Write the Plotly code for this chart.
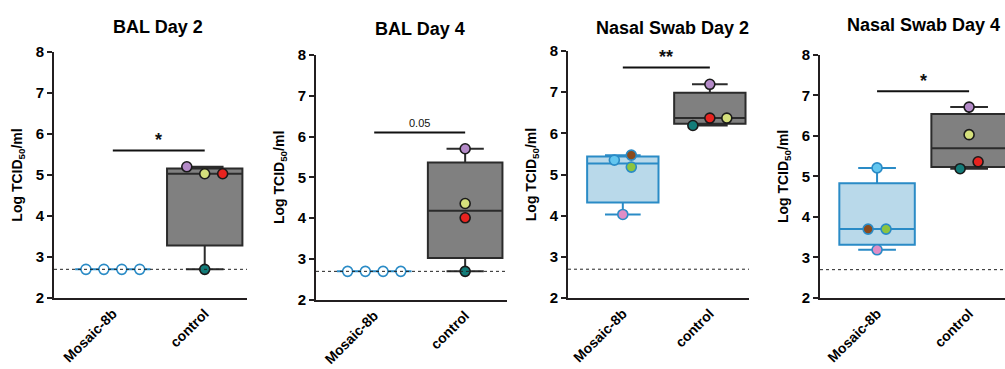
import numpy as np
import plotly.graph_objects as go

# ---------------- data ----------------
categories = ["Mosaic-8b", "control"]
panel_titles = ["BAL Day 2", "BAL Day 4", "Nasal Swab Day 2", "Nasal Swab Day 4"]
y_ticks = [2, 3, 4, 5, 6, 7, 8]
detection_limit = 2.7

bal_d2_mosaic = [2.7, 2.7, 2.7, 2.7]
bal_d2_control = [5.2, 5.03, 5.03, 2.7]
bal_d4_mosaic = [2.7, 2.7, 2.7, 2.7]
bal_d4_control = [5.7, 4.36, 4.01, 2.7]
nasal_d2_mosaic = [5.35, 5.18, 5.47, 4.03]
nasal_d2_control = [7.19, 6.19, 6.37, 6.37]
nasal_d4_mosaic = [5.21, 3.7, 3.7, 3.19]
nasal_d4_control = [6.71, 6.03, 5.19, 5.36]

sig_labels = ["*", "0.05", "**", "*"]
sig_heights = [5.6, 6.1, 7.6, 7.1]

# ---------------- styles ----------------
PURPLE, YELLOW, RED, TEAL = "#b48ac8", "#d5e07c", "#e8231f", "#137c79"
LBLUE, BROWN, GREEN, PINK = "#63c6ef", "#8a4a1c", "#8cc43f", "#df8ec6"
OPEN = "#ffffff"
point_colors = [
    ([OPEN] * 4, [PURPLE, YELLOW, RED, TEAL]),
    ([OPEN] * 4, [PURPLE, YELLOW, RED, TEAL]),
    ([LBLUE, GREEN, BROWN, PINK], [PURPLE, TEAL, RED, YELLOW]),
    ([LBLUE, BROWN, GREEN, PINK], [PURPLE, YELLOW, TEAL, RED]),
]
panel_values = [
    (bal_d2_mosaic, bal_d2_control),
    (bal_d4_mosaic, bal_d4_control),
    (nasal_d2_mosaic, nasal_d2_control),
    (nasal_d4_mosaic, nasal_d4_control),
]

MOS_FILL, MOS_LINE = "#b9d9ea", "#2a8bc6"
CTL_FILL, CTL_LINE = "#808080", "#2b2b2b"
AX = "#231f20"
FONT = "Liberation Sans"

W, H = 1005, 369
# pixel geometry of each panel: (x_left, x_right, y_top(8), y_bottom(2)), x range
px_geom = [(54, 247, 45, 303), (316, 507, 48, 305), (568, 749, 44, 303), (820, 1005, 48, 303)]
x_ranges = [(-0.64, 1.46), (-0.64, 1.46), (-0.63, 1.45), (-0.62, 1.39)]
title_px = [(158, 19), (420, 21), (672, 20), (923, 17)]

SPACING = 0.195   # horizontal spacing of swarm columns (data units)
OVERLAP = 0.23    # vertical distance below which markers collide


def swarm_offsets(vals):
    """Spread colliding points into centred columns (Prism-like scatter)."""
    n = len(vals)
    parent = list(range(n))

    def find(i):
        while parent[i] != i:
            i = parent[i]
        return i

    for i in range(n):
        for j in range(i + 1, n):
            if abs(vals[i] - vals[j]) < OVERLAP:
                parent[find(j)] = find(i)
    groups = {}
    for i in range(n):
        groups.setdefault(find(i), []).append(i)
    offs = [0.0] * n
    for members in groups.values():
        cols = []
        assign = {}
        for i in members:
            for ci, col in enumerate(cols):
                if all(abs(vals[i] - vals[k]) >= OVERLAP for k in col):
                    col.append(i)
                    assign[i] = ci
                    break
            else:
                cols.append([i])
                assign[i] = len(cols) - 1
        nc = len(cols)
        for i in members:
            offs[i] = (assign[i] - (nc - 1) / 2) * SPACING
    return offs


fig = go.Figure()
layout = dict(
    width=W, height=H, margin=dict(l=0, r=0, t=0, b=0),
    paper_bgcolor="white", plot_bgcolor="white", showlegend=False,
    font=dict(family=FONT, color="#000000"),
)
shapes, annotations = [], []

for p in range(4):
    xl, xr, yt, yb = px_geom[p]
    sfx = "" if p == 0 else str(p + 1)
    xa, ya = "x" + sfx, "y" + sfx
    layout["xaxis" + sfx] = dict(
        domain=[xl / W, xr / W], range=list(x_ranges[p]), anchor=ya,
        tickmode="array", tickvals=[0, 1], ticktext=categories, tickangle=-45,
        tickfont=dict(family=FONT, size=14, weight="bold", color="#000"),
        showline=True, linecolor=AX, linewidth=2, ticks="", showgrid=False,
        zeroline=False, fixedrange=True,
    )
    layout["yaxis" + sfx] = dict(
        domain=[(H - yb) / H, (H - yt) / H], range=[2, 8], anchor=xa,
        tickvals=y_ticks, ticks="outside", ticklen=5, tickwidth=2, tickcolor=AX,
        tickfont=dict(family=FONT, size=15, weight="bold", color="#000"),
        showline=True, linecolor=AX, linewidth=2, showgrid=False, zeroline=False,
        title=dict(text="Log TCID<sub>50</sub>/ml", standoff=10,
                   font=dict(family=FONT, size=14, weight="bold", color="#000")),
        fixedrange=True,
    )

    for ci, vals in enumerate(panel_values[p]):
        q1, med, q3 = np.percentile(vals, [25, 50, 75], method="weibull")
        fill, line = (MOS_FILL, MOS_LINE) if ci == 0 else (CTL_FILL, CTL_LINE)
        fig.add_trace(go.Box(
            x=[ci], q1=[q1], median=[med], q3=[q3],
            lowerfence=[min(vals)], upperfence=[max(vals)],
            width=0.82, whiskerwidth=0.5, fillcolor=fill,
            line=dict(color=line, width=2), boxpoints=False,
            xaxis=xa, yaxis=ya, hoverinfo="skip",
        ))
        offs = swarm_offsets(vals)
        fig.add_trace(go.Scatter(
            x=[ci + o for o in offs], y=vals, mode="markers",
            marker=dict(size=10, color=point_colors[p][ci],
                        line=dict(color=line if ci == 0 else "#1a1a1a", width=1.6)),
            xaxis=xa, yaxis=ya, hoverinfo="skip", cliponaxis=False,
        ))

    # detection limit
    shapes.append(dict(type="line", xref=xa + " domain", yref=ya, x0=0, x1=1,
                       y0=detection_limit, y1=detection_limit,
                       line=dict(color="#222", width=1, dash="dot"), layer="above"))
    # significance bar
    shapes.append(dict(type="line", xref=xa, yref=ya, x0=0, x1=1,
                       y0=sig_heights[p], y1=sig_heights[p],
                       line=dict(color="#111", width=2)))
    lab = sig_labels[p]
    is_star = lab.startswith("*")
    annotations.append(dict(
        xref=xa, yref=ya, x=0.5, y=sig_heights[p], text=lab, showarrow=False,
        yanchor="bottom", yshift=-2 if is_star else 1,
        font=dict(family=FONT, size=18 if is_star else 11,
                  weight="bold" if is_star else "normal", color="#111"),
    ))
    # panel title
    tx, ty = title_px[p]
    annotations.append(dict(
        xref="paper", yref="paper", x=tx / W, y=1 - ty / H, text=panel_titles[p],
        showarrow=False, xanchor="center", yanchor="middle",
        font=dict(family=FONT, size=18, weight="bold", color="#000"),
    ))

layout["shapes"] = shapes
layout["annotations"] = annotations
fig.update_layout(**layout)
fig.write_html("out.html", config={"displayModeBar": False},
               post_script="document.body.style.margin='0';")
